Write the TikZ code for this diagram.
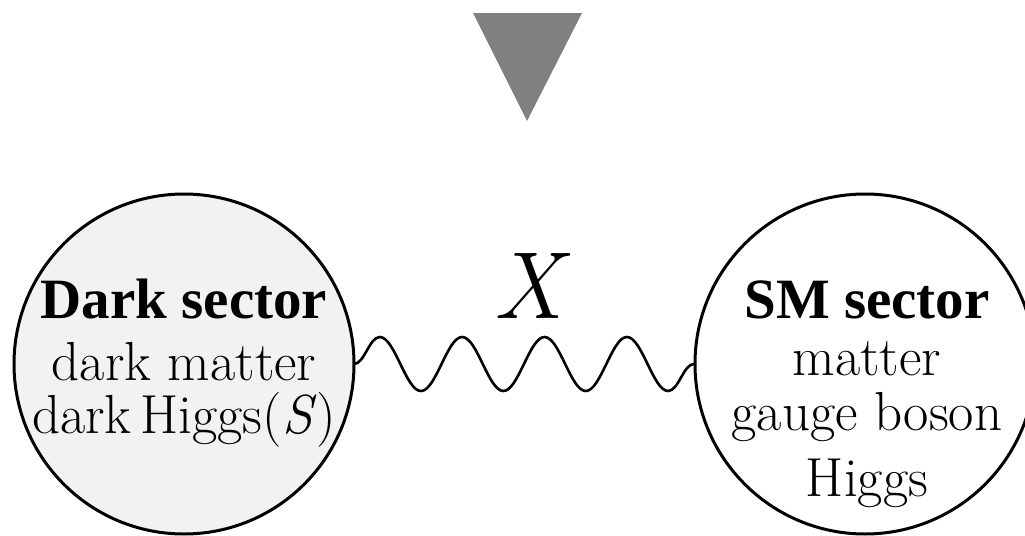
\documentclass[tikz,border=0pt]{standalone}
\usepackage{fontspec}
\newfontfamily\headfont{Liberation Serif}
\usetikzlibrary{decorations.pathmorphing}

\newcommand{\sectorhead}[1]{{\headfont\bfseries\fontsize{28.5}{30}\selectfont #1}}

\begin{document}
\begin{tikzpicture}[x=0.5pt, y=-0.5pt,
				sec/.style={draw, circle, line width=1.5pt, minimum size=170pt, inner sep=0pt, outer sep=0pt},
				txt/.style={align=center, inner sep=0pt, font=\fontsize{27.5}{27.5}\selectfont},
				wave/.style={line width=1.3pt, decorate, decoration={snake, segment length=41.2pt, amplitude=13.5pt}}]
				\useasboundingbox (0,0) rectangle (1025,536);
				\fill[gray] (473,13) -- (582,13) -- (527,121) -- cycle;
				\node[sec, fill=black!5] (dark) at (184,364) {};
				\node[sec, fill=white] (sm) at (865,364) {};
				\node[txt] (darktxt) at (184,363) {\sectorhead{Dark sector}\\[3.5pt] dark matter\\[-1pt] dark\,Higgs(\textit{S})};
				\node[txt] (smtxt) at (867,394) {\sectorhead{SM sector}\\[1pt] matter\\ gauge boson\\[5.5pt] Higgs};
				\draw[wave] (dark.east) -- (sm.west);
				\node[anchor=base, inner sep=0pt, font=\fontsize{47.6}{50}\selectfont\itshape] (xlab) at (528,318) {X};
			\end{tikzpicture}
\end{document}
